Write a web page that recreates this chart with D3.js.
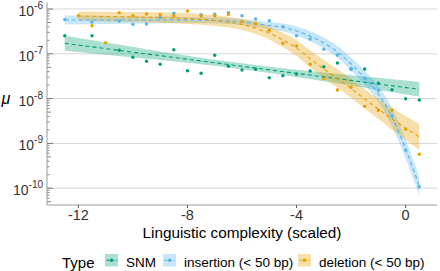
<!DOCTYPE html>
<html>
<head>
<meta charset="utf-8">
<script src="https://cdn.jsdelivr.net/npm/d3@7"></script>
<style>
  body { margin: 0; background: #fff; }
  svg { display: block; font-family: "Liberation Sans", Arial, sans-serif; }
</style>
</head>
<body>
<div id="graphic"></div>
<script>
// Global vars: values (mu stored as log10)
var xValues = [-12.5, -12, -11.5, -11, -10.5, -10, -9.5, -9, -8.5, -8, -7.5, -7, -6.5, -6,
  -5.5, -5, -4.5, -4, -3.5, -3, -2.5, -2, -1.5, -1, -0.5, 0, 0.5];

var snmLog10 = [-6.596, null, -6.596, null, -6.922, -7.078, -7.167, -7.234, -6.908, -7.377,
  -7.435, -7.033, -7.279, -7.362, -7.346, -7.533, -7.489, -7.451, -7.384, -7.288, -7.205,
  -7.339, -7.339, -7.658, -7.801, -8.002, -8.031];
var insertionLog10 = [-6.234, null, -6.290, null, -6.268, -6.342, -6.335, -6.190, -6.096, null,
  -6.127, -6.118, -6.083, -6.150, -6.223, -6.261, -6.395, -6.596, -6.670, -6.900, -7.027,
  -7.346, -7.547, -7.815, -8.382, -9.147, -9.967];
var deletionLog10 = [null, -6.150, -6.373, -6.752, -6.083, -6.150, -6.112, -6.127, -6.150, -6.045,
  -6.156, -6.150, -6.118, -6.283, -6.328, -6.475, -6.766, -6.826, -7.234, -7.556, -7.808,
  -7.748, -8.172, -8.261, -8.254, -8.685, -9.243];

// fitted curves and half width of their bands (log10 units)
var snmFitX = [-12.5, -11, -9.5, -8, -6, -4, -2, -0.5, 0.5];
var snmFit = [-6.766, -6.884, -7.003, -7.121, -7.279, -7.437, -7.594, -7.713, -7.792];
var snmHalf = [0.167, 0.136, 0.106, 0.080, 0.067, 0.080, 0.114, 0.145, 0.163];

var insertionFitX = [-12.5, -11, -9.5, -8, -7, -6, -5, -4.5, -4, -3.5, -3, -2.5, -2, -1.5, -1, -0.5, 0, 0.5];
var insertionFit = [-6.246, -6.246, -6.246, -6.246, -6.257, -6.290, -6.368, -6.413, -6.491, -6.603,
  -6.759, -6.960, -7.228, -7.540, -7.897, -8.411, -9.125, -9.951];
var insertionHalf = [0.100, 0.089, 0.078, 0.067, 0.067, 0.067, 0.078, 0.089, 0.100, 0.112,
  0.123, 0.134, 0.145, 0.156, 0.179, 0.201, 0.212, 0.201];

var deletionFitX = [-12, -11, -10, -9, -8, -7, -6, -5.5, -5, -4.5, -4, -3.5, -3, -2.5, -2, -1.5, -1, -0.5, 0, 0.5];
var deletionFit = [-6.156, -6.167, -6.179, -6.190, -6.212, -6.257, -6.346, -6.424, -6.536, -6.692,
  -6.871, -7.112, -7.339, -7.551, -7.775, -8.009, -8.232, -8.455, -8.656, -8.857];
var deletionHalf = [0.100, 0.106, 0.112, 0.117, 0.123, 0.123, 0.123, 0.134, 0.145, 0.162,
  0.179, 0.190, 0.201, 0.206, 0.212, 0.217, 0.223, 0.246, 0.268, 0.290];

var seriesNames = ['SNM', 'insertion (< 50 bp)', 'deletion (< 50 bp)'];
var seriesColors = ['#009E73', '#56B4E9', '#E69F00'];
var xTicks = [-12, -8, -4, 0];
var yDecades = [-10, -9, -8, -7, -6];

var DEFAULT_WIDTH = 440;
var DEFAULT_HEIGHT = 271;

/*
 * Render the graphic.
 */
var renderGraphic = function (config) {
  var margins = { top: 2.5, right: 3, bottom: 66, left: 47 };
  var chartWidth = config.width - margins.left - margins.right;
  var chartHeight = config.height - margins.top - margins.bottom;

  var containerElement = d3.select(config.container);
  containerElement.html('');

  var svg = containerElement.append('svg')
    .attr('width', config.width)
    .attr('height', config.height);

  var chartElement = svg.append('g')
    .attr('transform', 'translate(' + margins.left + ',' + margins.top + ')');

  var xScale = d3.scaleLinear()
    .domain([-13.15, 1.15])
    .range([0, chartWidth]);

  var yScale = d3.scaleLog()
    .domain([Math.pow(10, -10.375), Math.pow(10, -5.855)])
    .range([chartHeight, 0]);

  var p10 = function (v) { return Math.pow(10, v); };

  // Grid lines at decades
  chartElement.append('g').selectAll('line')
    .data(yDecades)
    .enter().append('line')
    .attr('x1', 0).attr('x2', chartWidth)
    .attr('y1', function (d) { return yScale(p10(d)); })
    .attr('y2', function (d) { return yScale(p10(d)); })
    .attr('stroke', '#d6d6d6')
    .attr('stroke-width', 1);

  var series = [
    { name: seriesNames[0], color: seriesColors[0], values: snmLog10, fitX: snmFitX, fit: snmFit, half: snmHalf },
    { name: seriesNames[1], color: seriesColors[1], values: insertionLog10, fitX: insertionFitX, fit: insertionFit, half: insertionHalf },
    { name: seriesNames[2], color: seriesColors[2], values: deletionLog10, fitX: deletionFitX, fit: deletionFit, half: deletionHalf }
  ];

  var area = d3.area()
    .x(function (d) { return xScale(d.x); })
    .y0(function (d) { return yScale(p10(d.fit - d.half)); })
    .y1(function (d) { return yScale(p10(d.fit + d.half)); })
    .curve(d3.curveMonotoneX);

  var line = d3.line()
    .x(function (d) { return xScale(d.x); })
    .y(function (d) { return yScale(p10(d.fit)); })
    .curve(d3.curveMonotoneX);

  series.forEach(function (s) {
    s.fitRows = s.fitX.map(function (x, i) { return { x: x, fit: s.fit[i], half: s.half[i] }; });
    s.points = xValues.map(function (x, i) { return { x: x, v: s.values[i] }; })
      .filter(function (d) { return d.v !== null; });
  });

  // Ribbons
  chartElement.append('g').selectAll('path')
    .data(series)
    .enter().append('path')
    .attr('d', function (s) { return area(s.fitRows); })
    .attr('fill', function (s) { return s.color; })
    .attr('fill-opacity', 0.33);

  // Fitted lines
  chartElement.append('g').selectAll('path')
    .data(series)
    .enter().append('path')
    .attr('d', function (s) { return line(s.fitRows); })
    .attr('fill', 'none')
    .attr('stroke', function (s) { return s.color; })
    .attr('stroke-width', 1.1)
    .attr('stroke-dasharray', '4,3');

  // Points
  series.forEach(function (s) {
    chartElement.append('g').selectAll('circle')
      .data(s.points)
      .enter().append('circle')
      .attr('cx', function (d) { return xScale(d.x); })
      .attr('cy', function (d) { return yScale(p10(d.v)); })
      .attr('r', 1.7)
      .attr('fill', s.color);
  });

  // Log ticks on the left side of the panel
  var logTicks = [];
  [-11, -10, -9, -8, -7, -6].forEach(function (e) {
    for (var k = 1; k <= 9; k++) {
      var v = k * Math.pow(10, e);
      var dom = yScale.domain();
      if (v >= dom[0] && v <= dom[1]) logTicks.push({ v: v, k: k });
    }
  });
  chartElement.append('g').selectAll('line')
    .data(logTicks)
    .enter().append('line')
    .attr('x1', 0)
    .attr('x2', function (d) { return d.k === 1 ? 6 : (d.k === 5 ? 4 : 2.5); })
    .attr('y1', function (d) { return yScale(d.v); })
    .attr('y2', function (d) { return yScale(d.v); })
    .attr('stroke', '#333')
    .attr('stroke-width', 0.6);

  // Axis lines
  chartElement.append('line')
    .attr('x1', 0).attr('x2', 0).attr('y1', 0).attr('y2', chartHeight)
    .attr('stroke', '#9a9a9a');
  chartElement.append('line')
    .attr('x1', 0).attr('x2', chartWidth).attr('y1', chartHeight).attr('y2', chartHeight)
    .attr('stroke', '#9a9a9a');

  // X ticks and labels
  var xAxis = chartElement.append('g').attr('transform', 'translate(0,' + chartHeight + ')');
  xAxis.selectAll('line')
    .data(xTicks)
    .enter().append('line')
    .attr('x1', function (d) { return xScale(d); })
    .attr('x2', function (d) { return xScale(d); })
    .attr('y1', 0).attr('y2', 3)
    .attr('stroke', '#555');
  xAxis.selectAll('text')
    .data(xTicks)
    .enter().append('text')
    .attr('x', function (d) { return xScale(d); })
    .attr('y', 15)
    .attr('text-anchor', 'middle')
    .attr('font-size', 14.5)
    .attr('fill', '#333')
    .text(function (d) { return d; });

  // Y tick labels 10^e
  var yLabels = chartElement.append('g').selectAll('text')
    .data(yDecades)
    .enter().append('text')
    .attr('x', -4)
    .attr('y', function (d) { return yScale(p10(d)) + 7; })
    .attr('text-anchor', 'end')
    .attr('fill', '#333');
  yLabels.append('tspan').attr('font-size', 14).text('10');
  yLabels.append('tspan').attr('font-size', 10).attr('dy', -7)
    .text(function (d) { return d; });

  // Axis titles
  chartElement.append('text')
    .attr('x', chartWidth / 2)
    .attr('y', chartHeight + 32.5)
    .attr('text-anchor', 'middle')
    .attr('font-size', 15.3)
    .attr('fill', '#000')
    .text('Linguistic complexity (scaled)');

  svg.append('text')
    .attr('x', 6)
    .attr('y', yScale(p10(-8)) + margins.top + 5)
    .attr('text-anchor', 'middle')
    .attr('font-size', 16)
    .attr('font-style', 'italic')
    .text('\u03bc');

  // Legend
  var legend = svg.append('g').attr('transform', 'translate(0,254)');
  legend.append('text')
    .attr('x', 62).attr('y', 14)
    .attr('font-size', 15)
    .text('Type');
  var keyX = [105, 163, 298];
  series.forEach(function (s, i) {
    var g = legend.append('g').attr('transform', 'translate(' + keyX[i] + ',0)');
    g.append('rect').attr('width', 13).attr('height', 12.5)
      .attr('fill', s.color).attr('fill-opacity', 0.33);
    g.append('line').attr('x1', 1.5).attr('x2', 11.5).attr('y1', 6.25).attr('y2', 6.25)
      .attr('stroke', s.color).attr('stroke-width', 1.1).attr('stroke-dasharray', '3,1.5');
    g.append('circle').attr('cx', 6.5).attr('cy', 6.25).attr('r', 1.7).attr('fill', s.color);
    g.append('text').attr('x', 21).attr('y', 13.3)
      .attr('font-size', 13.5)
      .text(s.name);
  });
};

window.onload = function () {
  renderGraphic({ container: '#graphic', width: DEFAULT_WIDTH, height: DEFAULT_HEIGHT });
};
</script>
</body>
</html>
